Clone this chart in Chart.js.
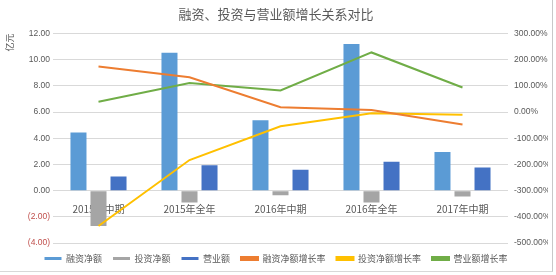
<!DOCTYPE html>
<html>
<head>
<meta charset="utf-8">
<script src="https://cdn.jsdelivr.net/npm/chart.js@4/dist/chart.umd.min.js"></script>
<style>
  html, body { margin: 0; padding: 0; background: #fff; }
  #wrap { position: relative; width: 556px; height: 275px; }
  #frame { position: absolute; left: 0; top: 0; width: 552px; height: 271px;
           border-right: 1px solid #c8c8c8; border-bottom: 1px solid #d8d8d8; pointer-events: none; }
</style>
</head>
<body>
<div id="wrap">
  <canvas id="chart" width="556" height="275"></canvas>
  <div id="frame"></div>
</div>
<script>
const categories = ['2015年中期', '2015年全年', '2016年中期', '2016年全年', '2017年中期'];
// amounts, 亿元
const financingNet = [4.45, 10.54, 5.38, 11.2, 2.95];
const investmentNet = [-2.7, -0.9, -0.35, -0.9, -0.45];
const revenue = [1.09, 1.94, 1.6, 2.2, 1.76];
// growth rates, %
const financingGrowth = [174, 133, 19, 8, -47];
const investmentGrowth = [-435, -183, -54, -4, -10];
const revenueGrowth = [40, 111, 83, 228, 94];

const textColor = '#595959';
const gridColor = '#d9d9d9';

function bar(label, data, color) {
    return {
        type: 'bar', label: label, data: data, yAxisID: 'y',
        backgroundColor: color, borderColor: color, borderWidth: 0,
        categoryPercentage: 0.66, barPercentage: 0.8, order: 2
    };
}
function line(label, data, color) {
    return {
        type: 'line', label: label, data: data, yAxisID: 'y1',
        borderColor: color, backgroundColor: color, borderWidth: 2,
        pointRadius: 0, tension: 0, fill: false, order: 1
    };
}

new Chart(document.getElementById('chart'), {
    data: {
        labels: categories,
        datasets: [
            bar('融资净额', financingNet, '#5b9bd5'),
            bar('投资净额', investmentNet, '#a5a5a5'),
            bar('营业额', revenue, '#4472c4'),
            line('融资净额增长率', financingGrowth, '#ed7d31'),
            line('投资净额增长率', investmentGrowth, '#ffc000'),
            line('营业额增长率', revenueGrowth, '#70ad47')
        ]
    },
    options: {
        responsive: false,
        animation: false,
        layout: { padding: { left: 4, right: 8, top: 0, bottom: 2 } },
        plugins: {
            title: {
                display: true,
                text: '融资、投资与营业额增长关系对比',
                color: textColor,
                font: { size: 13, weight: 'normal', family: 'Noto Sans CJK SC' },
                padding: { top: 6, bottom: 12 }
            },
            legend: {
                position: 'bottom',
                labels: {
                    color: textColor,
                    font: { size: 9, family: 'Noto Sans CJK SC' },
                    boxWidth: 17,
                    boxHeight: 3,
                    padding: 11,
                    sort: (a, b) => a.datasetIndex - b.datasetIndex
                }
            },
            tooltip: { enabled: false }
        },
        scales: {
            x: {
                position: { y: 0 },
                grid: { display: false },
                border: { display: false },
                ticks: { color: textColor, font: { size: 10, family: 'Noto Sans CJK SC' }, padding: 5 }
            },
            y: {
                position: 'left',
                min: -4, max: 12,
                ticks: {
                    stepSize: 2,
                    color: (ctx) => ctx.tick.value < 0 ? '#c0504d' : textColor,
                    font: { size: 8.5, family: 'Liberation Sans' },
                    callback: (v) => v < 0 ? '(' + Math.abs(v).toFixed(2) + ')' : v.toFixed(2)
                },
                grid: { color: gridColor, drawTicks: false },
                border: { display: false },
                title: {
                    display: true, text: '亿元', color: textColor, align: 'end',
                    font: { size: 9, family: 'Noto Sans CJK SC' }, padding: 0
                },
                afterFit: (scale) => { scale.width = 49; }
            },
            y1: {
                position: 'right',
                min: -500, max: 300,
                ticks: {
                    stepSize: 100,
                    color: textColor,
                    font: { size: 8.5, family: 'Liberation Sans' },
                    padding: 6,
                    callback: (v) => v.toFixed(2) + '%'
                },
                grid: { display: false, drawTicks: false },
                border: { display: false },
                afterFit: (scale) => { scale.width = 40; }
            }
        }
    }
});
</script>
</body>
</html>
